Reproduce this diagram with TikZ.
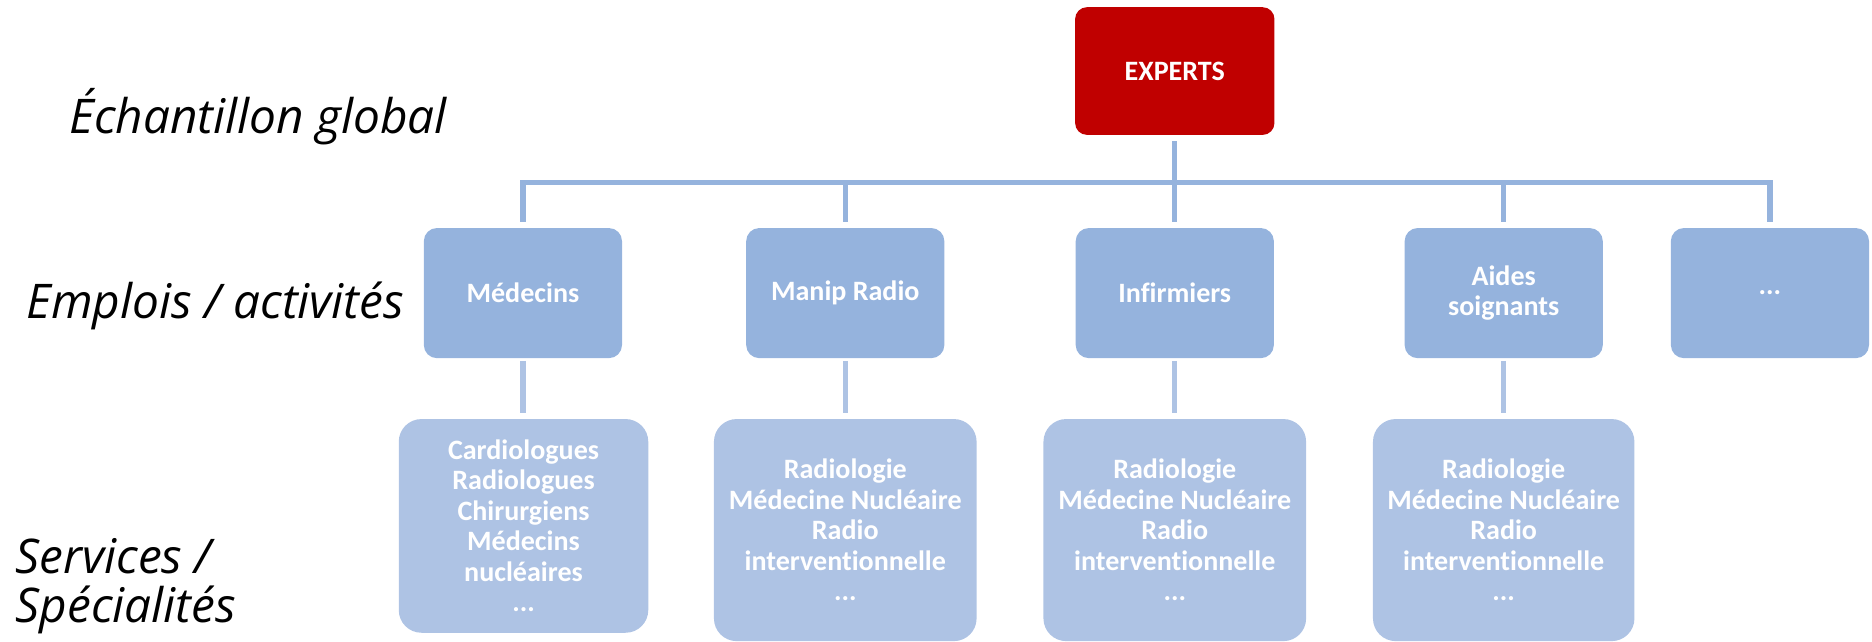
\documentclass[tikz,border=0pt]{standalone}
\usepackage{fontspec}
\setmainfont{Carlito}[Ligatures=NoCommon]
\newfontfamily\labfont{Open Sans}
\usetikzlibrary{positioning}
\definecolor{redbox}{HTML}{C00000}
\definecolor{lvltwo}{HTML}{95B3DD}
\definecolor{lvlthree}{HTML}{AEC3E4}
\begin{document}
\begin{tikzpicture}[x=1pt,y=-1pt,
  boxtxt/.style={text=white,font=\bfseries\fontsize{23.5}{25.5}\selectfont,align=center,inner sep=0pt},
  expbox/.style={boxtxt,fill=redbox,rounded corners=10pt,minimum width=167pt,minimum height=107pt},
  jobbox/.style={boxtxt,fill=lvltwo,rounded corners=11pt,minimum width=166pt,minimum height=109pt},
  svcbox/.style={boxtxt,fill=lvlthree,rounded corners=19pt,minimum height=186pt},
  busline/.style={draw=lvltwo,line width=4.5pt},
  subline/.style={draw=lvlthree,line width=4.5pt},
  sidelabel/.style={font=\labfont\itshape\fontsize{40}{41}\selectfont,anchor=base west,inner sep=0pt,align=left}
]
\useasboundingbox (0,0) rectangle (1568,537.7);

\node[expbox] (experts) at (984,59.5) {EXPERTS};

\node[jobbox] (med)  at (438,245.5)   {Médecins};
\node[jobbox] (manip) at (708,245.5)  {Manip Radio};
\node[jobbox] (inf)  at (984,245.5)   {Infirmiers};
\node[jobbox] (aides) at (1259.5,245.5) {Aides\\soignants};
\node[jobbox] (etc)  at (1482.5,245.5) {...};

\node[svcbox,minimum width=209pt,minimum height=179pt] (smed) at (438.5,440.5)
  {Cardiologues\\Radiologues\\Chirurgiens\\Médecins\\nucléaires\\...};
\node[svcbox,minimum width=220pt] (smanip) at (708,444)
  {Radiologie\\Médecine Nucléaire\\Radio\\interventionnelle\\...};
\node[svcbox,minimum width=220pt] (sinf) at (984,444)
  {Radiologie\\Médecine Nucléaire\\Radio\\interventionnelle\\...};
\node[svcbox,minimum width=219pt] (saides) at (1259.5,444)
  {Radiologie\\Médecine Nucléaire\\Radio\\interventionnelle\\...};

\coordinate (bus) at (0,153);

\draw[busline,shorten <=5pt] (experts.south) -- (experts.south |- bus);
\draw[busline,shorten <=5pt,shorten >=5pt] (med.north) -- (med.north |- bus) -- (etc.north |- bus) -- (etc.north);
\draw[busline,shorten >=5pt] (manip.north |- bus) -- (manip.north);
\draw[busline,shorten >=5pt] (inf.north |- bus) -- (inf.north);
\draw[busline,shorten >=5pt] (aides.north |- bus) -- (aides.north);

\draw[subline,shorten <=2pt,shorten >=5pt] (med.south) -- (med.south |- smed.north);
\draw[subline,shorten <=2pt,shorten >=5pt] (manip.south) -- (smanip.north);
\draw[subline,shorten <=2pt,shorten >=5pt] (inf.south) -- (sinf.north);
\draw[subline,shorten <=2pt,shorten >=5pt] (aides.south) -- (saides.north);

\node[sidelabel] (lglobal) at (58,112) {Échantillon global};
\node[sidelabel] (lemplois) at (22,267) {Emplois / activités};
\node[sidelabel] (lservices) at (13,521) {Services /\\Spécialités};
\end{tikzpicture}
\end{document}
